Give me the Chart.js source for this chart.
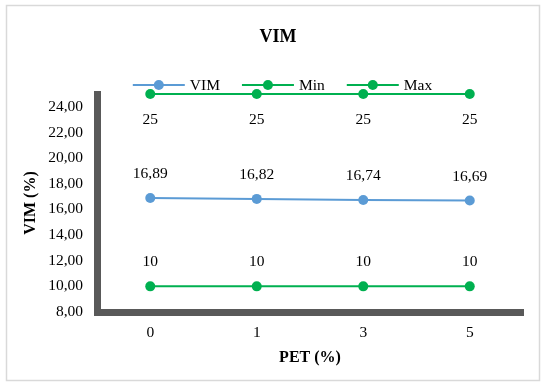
<!DOCTYPE html>
<html>
<head>
<meta charset="utf-8">
<title>VIM</title>
<script src="https://cdn.jsdelivr.net/npm/chart.js@4/dist/chart.umd.min.js"></script>
<style>
  html, body { margin: 0; padding: 0; background: #ffffff; }
  #wrap { width: 545px; height: 385px; position: relative; }
</style>
</head>
<body>
<div id="wrap"><canvas id="chart" width="545" height="385"></canvas></div>
<script>
// PET content (%) on the x axis
const categories = ['0', '1', '3', '5'];
// VIM (%) measured for each PET content, with the specification limits
const vimValues = [16.89, 16.82, 16.74, 16.69];
const minValues = [10, 10, 10, 10];
const maxValues = [25, 25, 25, 25];
// y axis tick values
const yTicks = [8, 10, 12, 14, 16, 18, 20, 22, 24];

const FONT = "'Liberation Serif', 'Times New Roman', serif";
const BLUE = '#5B9BD5';
const GREEN = '#00B050';
const AXIS = '#595959';

function formatValue(v) {
  return Number.isInteger(v) ? String(v) : v.toFixed(2).replace('.', ',');
}

// light grey frame around the whole chart
const framePlugin = {
  id: 'frame',
  beforeDraw(chart) {
    const ctx = chart.ctx;
    ctx.save();
    ctx.fillStyle = '#ffffff';
    ctx.fillRect(0, 0, chart.width, chart.height);
    ctx.strokeStyle = '#d9d9d9';
    ctx.lineWidth = 1.5;
    ctx.strokeRect(6.5, 5.5, 533, 375);
    ctx.restore();
  }
};

// value labels next to every point
const valueLabelPlugin = {
  id: 'valueLabels',
  afterDatasetsDraw(chart, args, opts) {
    const ctx = chart.ctx;
    ctx.save();
    ctx.font = opts.size + 'px ' + FONT;
    ctx.fillStyle = '#000000';
    ctx.textAlign = 'center';
    ctx.textBaseline = 'middle';
    chart.data.datasets.forEach((ds, i) => {
      const meta = chart.getDatasetMeta(i);
      const dy = opts.offsets[i];
      meta.data.forEach((pt, j) => {
        ctx.fillText(formatValue(ds.data[j]), pt.x, pt.y + dy);
      });
    });
    ctx.restore();
  }
};

// legend drawn as line-with-marker samples
const lineLegendPlugin = {
  id: 'lineLegend',
  afterDraw(chart, args, opts) {
    const ctx = chart.ctx;
    ctx.save();
    ctx.font = opts.size + 'px ' + FONT;
    ctx.textBaseline = 'middle';
    ctx.textAlign = 'left';
    const items = chart.data.datasets.map(ds => ({
      text: ds.label, color: ds.borderColor, w: ctx.measureText(ds.label).width
    }));
    const total = items.reduce((s, it) => s + opts.lineLength + opts.textGap + it.w, 0)
      + opts.itemGap * (items.length - 1);
    let x = opts.centerX - total / 2;
    const y = opts.y;
    items.forEach(it => {
      ctx.strokeStyle = it.color;
      ctx.lineWidth = 2;
      ctx.beginPath();
      ctx.moveTo(x, y);
      ctx.lineTo(x + opts.lineLength, y);
      ctx.stroke();
      ctx.fillStyle = it.color;
      ctx.beginPath();
      ctx.arc(x + opts.lineLength / 2, y, opts.radius, 0, Math.PI * 2);
      ctx.fill();
      x += opts.lineLength + opts.textGap;
      ctx.fillStyle = '#000000';
      ctx.fillText(it.text, x, y + 0.5);
      x += it.w + opts.itemGap;
    });
    ctx.restore();
  }
};

function series(label, data, color) {
  return {
    label: label,
    data: data,
    borderColor: color,
    backgroundColor: color,
    borderWidth: 2,
    pointRadius: 5,
    pointHoverRadius: 5,
    pointBorderWidth: 0,
    pointBackgroundColor: color,
    tension: 0,
    clip: false
  };
}

new Chart(document.getElementById('chart'), {
  type: 'line',
  data: {
    labels: categories,
    datasets: [
      series('VIM', vimValues, BLUE),
      series('Min', minValues, GREEN),
      series('Max', maxValues, GREEN)
    ]
  },
  plugins: [framePlugin, valueLabelPlugin, lineLegendPlugin],
  options: {
    responsive: false,
    animation: false,
    events: [],
    layout: { padding: { left: 33, right: 22, top: 0, bottom: 0 } },
    plugins: {
      legend: { display: false },
      tooltip: { enabled: false },
      title: {
        display: true,
        text: 'VIM',
        color: '#000000',
        font: { family: FONT, size: 18, weight: 'bold', lineHeight: 1.2 },
        padding: { top: 27, bottom: 45.4 }
      },
      valueLabels: { size: 15.5, offsets: [-24, -24, 26] },
      lineLegend: {
        size: 15.5, y: 85, centerX: 282.5,
        lineLength: 52, textGap: 5, itemGap: 22, radius: 5
      }
    },
    scales: {
      x: {
        type: 'category',
        offset: true,
        grid: { display: true, drawOnChartArea: false, drawTicks: false, color: 'rgba(0,0,0,0)' },
        border: { display: true, color: AXIS, width: 7 },
        ticks: { color: '#000000', padding: 12, font: { family: FONT, size: 15.5 } },
        title: {
          display: true,
          text: 'PET (%)',
          color: '#000000',
          font: { family: FONT, size: 16, weight: 'bold', lineHeight: 1.2 },
          padding: { top: 0, bottom: 17.5 }
        },
        afterFit(scale) { scale.height = 73; }
      },
      y: {
        min: 8,
        max: 25,
        grid: { display: true, drawOnChartArea: false, drawTicks: false, color: 'rgba(0,0,0,0)' },
        border: { display: true, color: AXIS, width: 7 },
        afterBuildTicks(scale) { scale.ticks = yTicks.map(v => ({ value: v })); },
        ticks: {
          color: '#000000',
          padding: 14,
          font: { family: FONT, size: 15.5 },
          callback: v => Number(v).toFixed(2).replace('.', ',')
        },
        title: {
          display: true,
          text: 'VIM (%)',
          color: '#000000',
          font: { family: FONT, size: 16, weight: 'bold', lineHeight: 1.2 },
          padding: { top: -12, bottom: 0 }
        },
        afterFit(scale) { scale.width = 64; }
      }
    }
  }
});
</script>
</body>
</html>
